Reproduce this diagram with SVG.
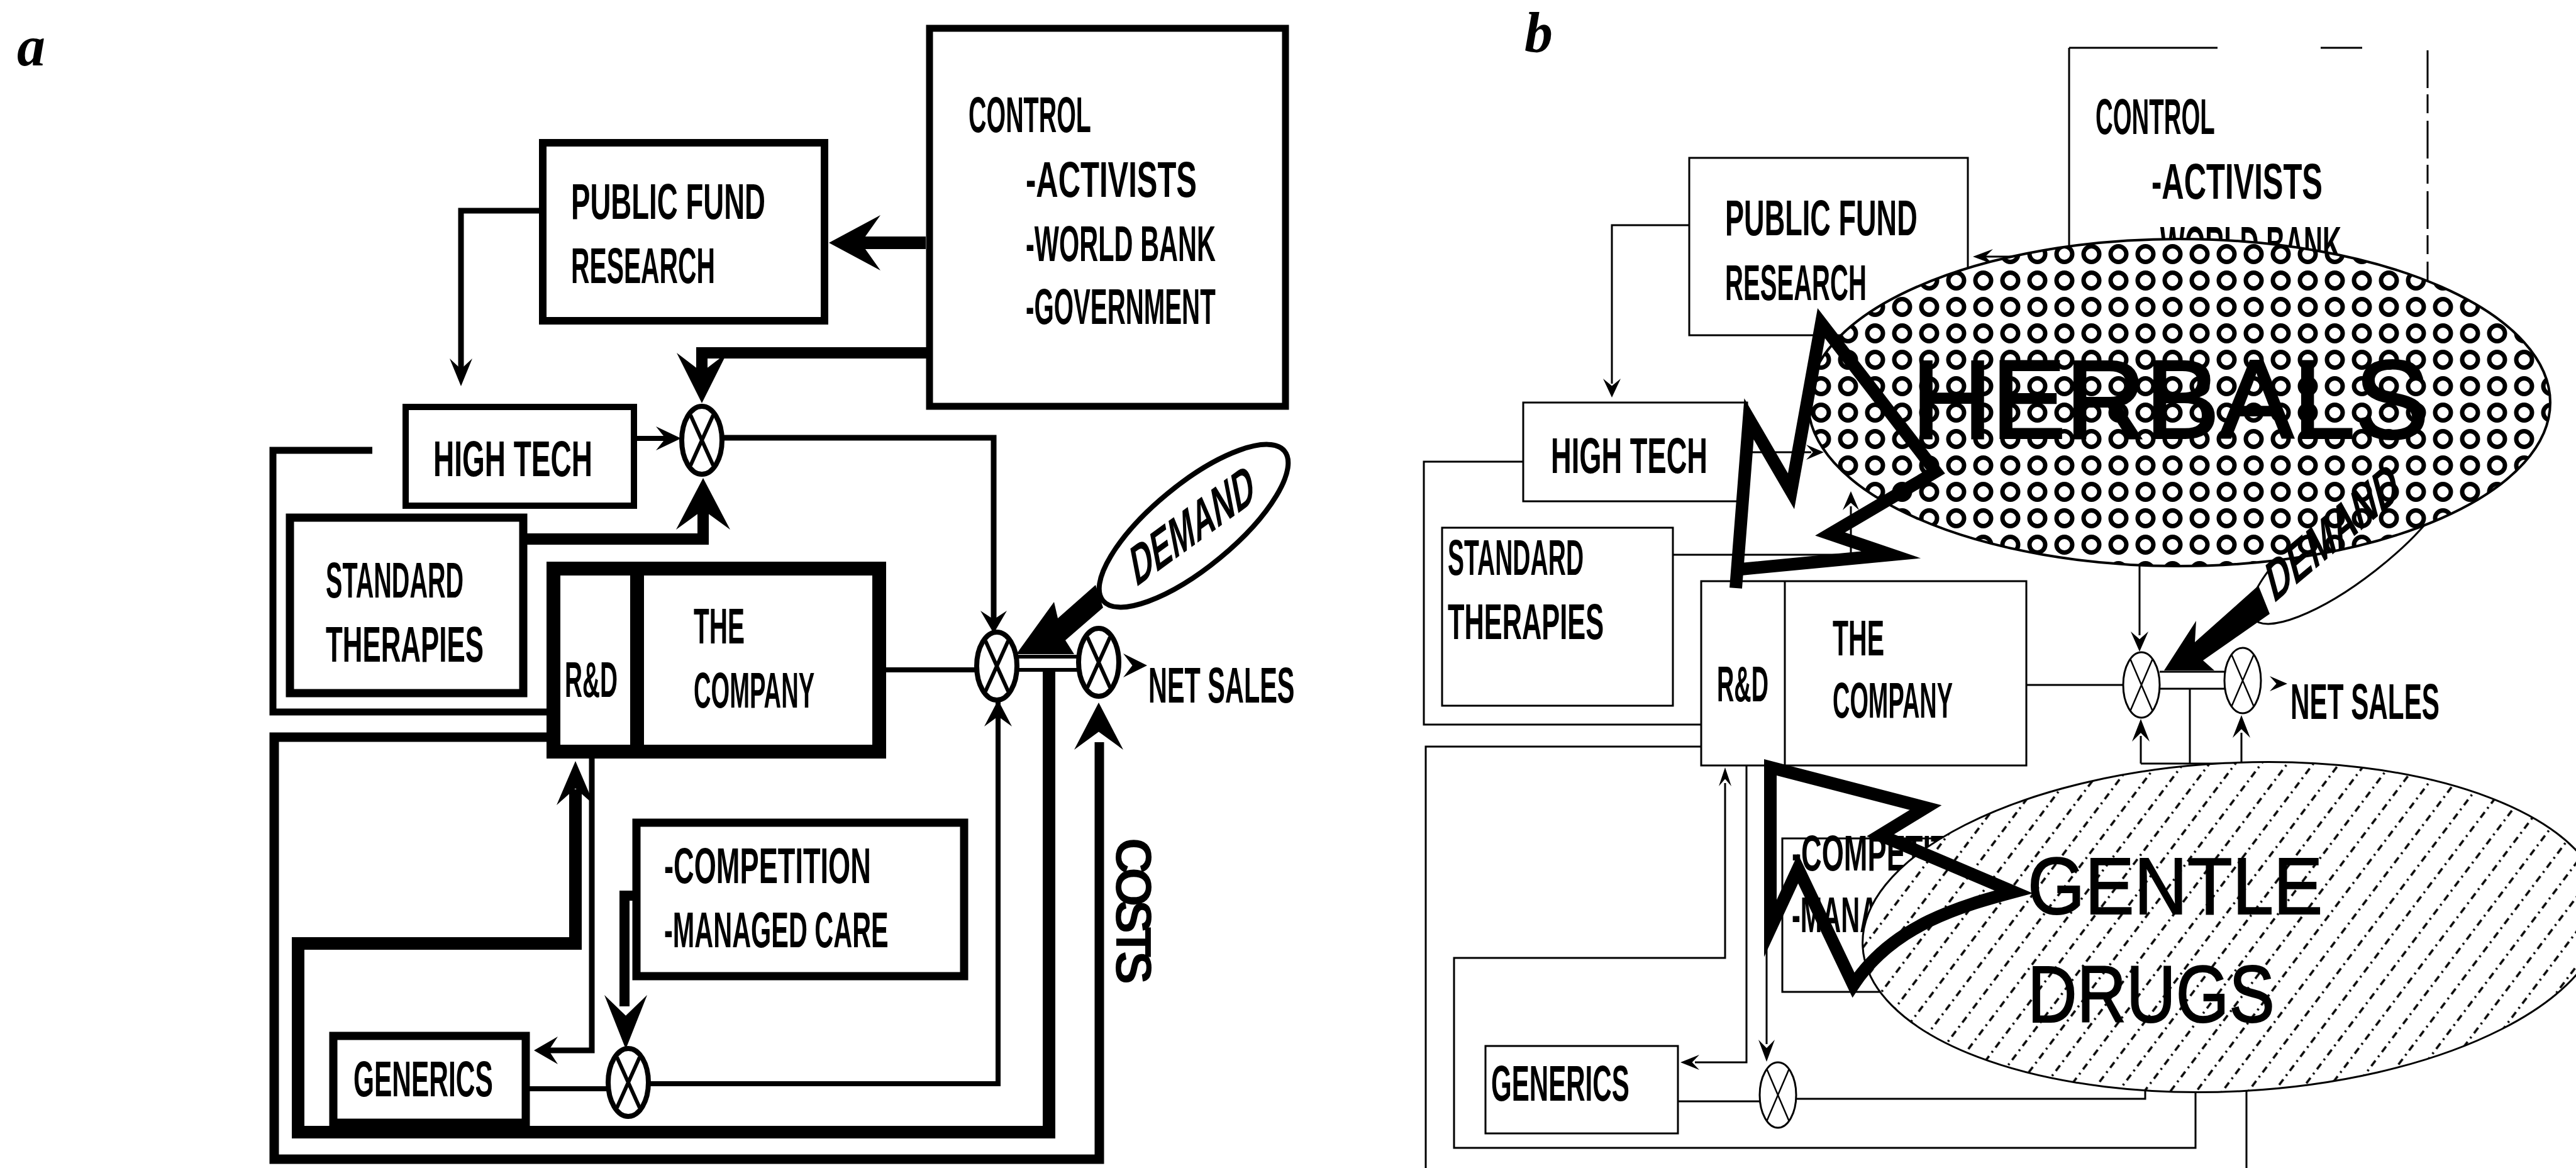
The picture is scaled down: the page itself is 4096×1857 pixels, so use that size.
<svg xmlns="http://www.w3.org/2000/svg" width="4096" height="1857" viewBox="0 0 4096 1857">
<style>
.t{font-family:"Liberation Sans",Arial,sans-serif;font-weight:bold;font-size:80px;fill:#000}
.lbl{font-family:"Liberation Serif","Times New Roman",serif;font-weight:bold;font-style:italic;font-size:90px;fill:#000}
.ba{fill:none;stroke:#000}
.bb{fill:none;stroke:#000;stroke-width:3}
.cn{fill:none;stroke:#000;stroke-linejoin:miter}
.cb{fill:none;stroke:#000;stroke-width:3}
.big{font-family:"Liberation Sans",Arial,sans-serif;fill:#000;stroke:#000}
.bolt{fill:none;stroke:#000;stroke-width:20;stroke-linejoin:miter;stroke-miterlimit:12}
</style>
<defs>
<path id="ah" d="M0,0 L-1,-1 L-0.62,0 L-1,1 Z"/>
<g id="mxA"><ellipse rx="32" ry="54" fill="#fff" stroke="#000" stroke-width="8"/><path d="M-18,-40 L18,40 M18,-40 L-18,40" stroke="#000" stroke-width="6"/></g>
<g id="mxB"><ellipse rx="29" ry="52" fill="#fff" stroke="#000" stroke-width="3"/><path d="M-18,-42 L18,42 M18,-42 L-18,42" stroke="#000" stroke-width="2.5"/></g>
<pattern id="rings" patternUnits="userSpaceOnUse" x="3132" y="467" width="43" height="42"><circle cx="21.5" cy="21" r="12.5" fill="none" stroke="#000" stroke-width="7"/></pattern>
<pattern id="hatch" patternUnits="userSpaceOnUse" width="33" height="28" patternTransform="rotate(40)"><line x1="16" y1="0" x2="16" y2="28" stroke="#000" stroke-width="3.5" stroke-dasharray="11 7 3 7"/></pattern>
</defs>
<rect width="4096" height="1857" fill="#fff"/>

<!-- ============ PANEL A ============ -->
<text class="lbl" x="27" y="104">a</text>

<g id="a-connectors">
<path class="cn" stroke-width="20" d="M1472,386 H1365"/>
<path class="cn" stroke-width="9" d="M863,335 H733 V590"/>
<path class="cn" stroke-width="18" d="M1478,561 H1116 V600"/>
<path class="cn" stroke-width="8" d="M1008,697 H1065"/>
<path class="cn" stroke-width="18" d="M832,857 H1118 V800"/>
<path class="cn" stroke-width="9" d="M1148,696 H1580 V990"/>
<path class="cn" stroke-width="8" d="M1398,1065 H1555"/>
<path class="cn" stroke-width="6" d="M1615,1044 H1717 M1615,1065 H1717"/>
<path class="cn" stroke-width="20" d="M1668,1068 V1800 H474 V1500 H915 V1255"/>
<path class="cn" stroke-width="15" d="M880,1172 H436 V1843 H1748 V1180"/>
<path class="cn" stroke-width="11" d="M592,716 H434 V1132 H880"/>
<path class="cn" stroke-width="9" d="M941,1195 V1670 H870"/>
<path class="cn" stroke-width="16" d="M1012,1424 H993 V1600"/>
<path class="cn" stroke-width="8" d="M836,1731 H970"/>
<path class="cn" stroke-width="8" d="M1031,1723 H1587 V1090"/>
<use href="#ah" transform="translate(1318,386) rotate(180) scale(82,44)"/>
<use href="#ah" transform="translate(733,614) rotate(90) scale(44,18)"/>
<use href="#ah" transform="translate(1116,641) rotate(90) scale(80,40)"/>
<use href="#ah" transform="translate(1083,697) scale(40,19)"/>
<use href="#ah" transform="translate(1118,760) rotate(-90) scale(82,43)"/>
<use href="#ah" transform="translate(1580,1007) rotate(90) scale(36,21)"/>
<use href="#ah" transform="translate(1587,1113) rotate(-90) scale(42,22)"/>
<use href="#ah" transform="translate(1747,1117) rotate(-90) scale(75,39)"/>
<use href="#ah" transform="translate(1824,1058) scale(38,19)"/>
<use href="#ah" transform="translate(915,1210) rotate(-90) scale(70,30)"/>
<use href="#ah" transform="translate(849,1670) rotate(180) scale(38,22)"/>
<use href="#ah" transform="translate(995,1668) rotate(90) scale(86,34)"/>
<polygon points="1616,1040 1676,957 1682,983 1742,930 1754,966 1694,1018 1708,1040"/>
</g>

<g id="a-control"><rect class="ba" stroke-width="11" x="1478" y="45" width="566" height="601"/>
<text class="t" transform="translate(1540,210) scale(0.493,1)">CONTROL</text>
<text class="t" transform="translate(1631,313) scale(0.612,1)">-ACTIVISTS</text>
<text class="t" transform="translate(1631,415) scale(0.519,1)">-WORLD BANK</text>
<text class="t" transform="translate(1631,515) scale(0.503,1)">-GOVERNMENT</text></g>
<g id="a-public-fund"><rect class="ba" stroke-width="12" x="863" y="227" width="448" height="283"/>
<text class="t" transform="translate(908,348) scale(0.570,1)">PUBLIC FUND</text>
<text class="t" transform="translate(908,450) scale(0.510,1)">RESEARCH</text></g>
<g id="a-high-tech"><rect class="ba" stroke-width="10" x="645" y="647" width="363" height="157"/>
<text class="t" transform="translate(689,757) scale(0.575,1)">HIGH TECH</text></g>
<g id="a-standard"><rect class="ba" stroke-width="13" x="461" y="823" width="371" height="279"/>
<text class="t" transform="translate(518,950) scale(0.495,1)">STANDARD</text>
<text class="t" transform="translate(518,1052) scale(0.548,1)">THERAPIES</text></g>
<g id="a-company"><rect class="ba" stroke-width="22" x="880" y="904" width="518" height="291"/>
<line x1="1013" y1="904" x2="1013" y2="1195" stroke="#000" stroke-width="22"/>
<text class="t" transform="translate(898,1108) scale(0.485,1)">R&amp;D</text>
<text class="t" transform="translate(1103,1023) scale(0.506,1)">THE</text>
<text class="t" transform="translate(1103,1125) scale(0.477,1)">COMPANY</text></g>
<g id="a-competition"><rect class="ba" stroke-width="13" x="1012" y="1308" width="521" height="244"/>
<text class="t" transform="translate(1056,1404) scale(0.565,1)">-COMPETITION</text>
<text class="t" transform="translate(1056,1506) scale(0.518,1)">-MANAGED CARE</text></g>
<g id="a-generics"><rect class="ba" stroke-width="13" x="530" y="1647" width="306" height="138"/>
<text class="t" transform="translate(562,1743) scale(0.531,1)">GENERICS</text></g>
<g id="a-demand"><ellipse cx="1898" cy="836" rx="187" ry="66" transform="rotate(-39.5 1898 836)" fill="#fff" stroke="#000" stroke-width="8"/>
<text class="t" font-size="54" transform="translate(1806,934) rotate(-36) skewX(-25) scale(0.675,1)">DEMAND</text></g>
<g id="a-mix1"><use href="#mxA" x="1116" y="700"/></g>
<g id="a-mix2"><use href="#mxA" x="1585" y="1059"/></g>
<g id="a-mix3"><use href="#mxA" x="1747" y="1053"/></g>
<g id="a-mix4"><use href="#mxA" x="999" y="1721"/></g>
<g id="a-net-sales"><text class="t" font-size="84" transform="translate(1826,1117) scale(0.518,1)">NET SALES</text></g>
<g id="a-costs"><text class="t" font-size="57" transform="translate(1775,1332) rotate(90)" textLength="233" lengthAdjust="spacing">COSTS</text></g>

<!-- ============ PANEL B ============ -->
<text class="lbl" x="2424" y="82">b</text>

<g id="b-connectors">
<path class="cb" d="M3290,408 H3150"/>
<path class="cb" d="M2686,358 H2563 V610"/>
<path class="cb" d="M2778,719 H2880"/>
<path class="cb" d="M2660,882 H2943 V805"/>
<path class="cb" d="M3402,880 V1010"/>
<path class="cb" d="M3222,1089 H3376"/>
<path class="cb" d="M3434,1068 H3537 M3434,1095 H3537"/>
<path class="cb" d="M3482,1095 V1215"/>
<path class="cb" d="M3404,1214 V1170 M3564,1214 V1165 M3404,1214 H3564"/>
<path class="cb" d="M3491,1725 V1825 H2312 V1523 H2743 V1245"/>
<path class="cb" d="M2705,1187 H2267 V1857 M3572,1730 V1857"/>
<path class="cb" d="M2422,734 H2264 V1152 H2705"/>
<path class="cb" d="M2777,1217 V1689 H2695"/>
<path class="cb" d="M2809,1217 V1660"/>
<path class="cb" d="M2668,1751 H2799"/>
<path class="cb" d="M2855,1747 H3411 V1720"/>
<use href="#ah" transform="translate(3137,408) rotate(180) scale(32,12)"/>
<use href="#ah" transform="translate(2563,632) rotate(90) scale(30,14)"/>
<use href="#ah" transform="translate(2900,719) scale(28,12)"/>
<use href="#ah" transform="translate(2943,781) rotate(-90) scale(30,13)"/>
<use href="#ah" transform="translate(3402,1036) rotate(90) scale(32,14)"/>
<use href="#ah" transform="translate(3637,1087) scale(28,12)"/>
<use href="#ah" transform="translate(3404,1143) rotate(-90) scale(36,14)"/>
<use href="#ah" transform="translate(3564,1137) rotate(-90) scale(36,14)"/>
<use href="#ah" transform="translate(2743,1220) rotate(-90) scale(30,10)"/>
<use href="#ah" transform="translate(2672,1689) rotate(180) scale(30,12)"/>
<use href="#ah" transform="translate(2809,1688) rotate(90) scale(35,13)"/>
</g>

<g id="b-control"><path class="bb" d="M3290,76 V470 M3290,76 H3526 M3690,76 H3756"/>
<path class="bb" stroke-dasharray="60 10 30 12" d="M3860,80 V470"/>
<text class="t" transform="translate(3332,213) scale(0.480,1)">CONTROL</text>
<text class="t" transform="translate(3421,316) scale(0.612,1)">-ACTIVISTS</text>
<text class="t" transform="translate(3421,416) scale(0.519,1)">-WORLD BANK</text>
<text class="t" transform="translate(3421,516) scale(0.503,1)">-GOVERNMENT</text></g>
<g id="b-public-fund"><rect class="bb" x="2686" y="251" width="443" height="282"/>
<text class="t" transform="translate(2743,374) scale(0.564,1)">PUBLIC FUND</text>
<text class="t" transform="translate(2743,477) scale(0.501,1)">RESEARCH</text></g>
<g id="b-high-tech"><rect class="bb" x="2422" y="640" width="356" height="157"/>
<text class="t" transform="translate(2466,752) scale(0.566,1)">HIGH TECH</text></g>
<g id="b-standard"><rect class="bb" x="2293" y="839" width="367" height="283"/>
<text class="t" transform="translate(2302,914) scale(0.488,1)">STANDARD</text>
<text class="t" transform="translate(2302,1016) scale(0.542,1)">THERAPIES</text></g>
<g id="b-company"><rect class="bb" x="2705" y="924" width="517" height="293"/>
<line x1="2838" y1="924" x2="2838" y2="1217" stroke="#000" stroke-width="3"/>
<text class="t" transform="translate(2730,1115) scale(0.473,1)">R&amp;D</text>
<text class="t" transform="translate(2914,1042) scale(0.513,1)">THE</text>
<text class="t" transform="translate(2914,1141) scale(0.474,1)">COMPANY</text></g>
<g id="b-competition"><rect class="bb" x="2834" y="1333" width="526" height="244"/>
<text class="t" transform="translate(2849,1384) scale(0.565,1)">-COMPETITION</text>
<text class="t" transform="translate(2849,1482) scale(0.518,1)">-MANAGED CARE</text></g>
<g id="b-generics"><rect class="bb" x="2362" y="1663" width="306" height="139"/>
<text class="t" transform="translate(2371,1750) scale(0.526,1)">GENERICS</text></g>
<g id="b-mix2"><use href="#mxB" x="3405" y="1089"/></g>
<g id="b-mix3"><use href="#mxB" x="3566" y="1082"/></g>
<g id="b-mix4"><use href="#mxB" x="2827" y="1741"/></g>
<g id="b-net-sales"><text class="t" font-size="82" transform="translate(3642,1143) scale(0.528,1)">NET SALES</text></g>
<g id="b-demand-shape"><ellipse cx="3740" cy="860" rx="200" ry="60" transform="rotate(-38 3740 860)" fill="#fff" stroke="#000" stroke-width="3"/></g>

<g id="b-herbals">
<ellipse cx="3465" cy="640" rx="590" ry="260" fill="#fff"/>
<ellipse cx="3465" cy="640" rx="590" ry="260" fill="url(#rings)" stroke="#000" stroke-width="4"/>
<text class="big" font-size="176" stroke-width="4" x="3040" y="696">HERBALS</text>
</g>
<g id="b-gentle-drugs">
<ellipse cx="3551" cy="1474" rx="590" ry="261" transform="rotate(-3 3551 1474)" fill="#fff"/>
<ellipse cx="3551" cy="1474" rx="590" ry="261" transform="rotate(-3 3551 1474)" fill="url(#hatch)" stroke="#000" stroke-width="3"/>
<text class="big" font-size="128" stroke-width="2" transform="translate(3224,1453) scale(0.916,1)">GENTLE</text>
<text class="big" font-size="128" stroke-width="2" transform="translate(3224,1625) scale(0.85,1)">DRUGS</text>
</g>
<g id="b-demand">
<text class="t" font-size="62" transform="translate(3615,960) rotate(-40) skewX(-25) scale(0.754,1)">DEMAND</text>
<polygon points="3441,1066 3492,987 3490,1021 3591,931 3609,976 3503,1050 3521,1066"/>
</g>
<g id="b-bolts">
<polyline class="bolt" points="2760,935 2781,666 2848,781 2896,514 3078,750 2910,849 3007,882 2768,905"/>
<path class="bolt" stroke-width="21" d="M2815,1220 L3062,1284 L2990,1328 L3202,1418 C3120,1440 3010,1470 2947,1566 L2859,1381 L2815,1476 Z"/>
</g>
</svg>
